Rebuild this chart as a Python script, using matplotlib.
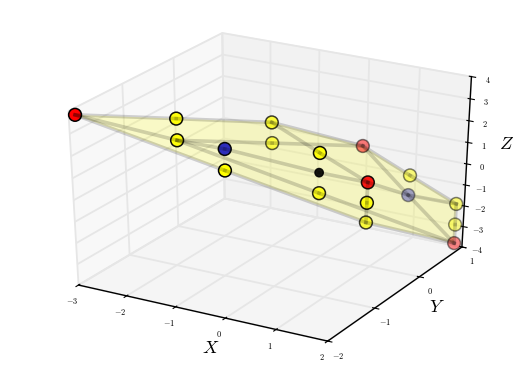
import matplotlib
matplotlib.use("Agg")
import matplotlib.pyplot as plt
from matplotlib.colors import to_rgba
from mpl_toolkits.mplot3d import Axes3D
from mpl_toolkits.mplot3d.art3d import Poly3DCollection

plt.rcParams['mathtext.fontset'] = 'cm'

# points of the polytope
xs = [-2.87,-1.93,-1.4,-0.77,-0.37,-0.72,-0.52,0.42,0.41,0.69,0.36,0.92,1.0,1.08,1.06,1.04,1.84,1.84,1.84]
ys = [-2,-1,-1.5,-1.2,-1.6,-.3,-.5,-.5,-.5,-.8,.5,0,-.1,-.2,.8,.8,1,1,1]
zs = [3.89,2.89,2.78,2.29,2.03,2.37,1.77,1.74,0.84,0.43,0.75,-0.04,-0.82,-1.57,-0.71,-1.66,-1.98,-2.98,-3.89]
colors = ['red','yellow','yellow','#2222bb','yellow','yellow','yellow','yellow','black','yellow',
          'red','red','yellow','yellow','yellow','#2222bb','yellow','yellow','red']
alphas = [1,.95,.95,.95,1,.75,.65,.95,.9,.85,.5,.9,.9,.75,.5,.4,.5,.45,.45]
sizes = [85,85,85,85,85,85,85,85,35,85,85,85,85,85,85,85,85,85,85]

hull = [0,1,5,10,14,16,18,13,4]
edges = [(0,1),(1,5),(5,10),(10,14),(14,16),(16,17),(17,18),(18,13),(13,4),(4,0),
         (0,2),(2,6),(6,10),(2,3),(3,8),(8,11),(11,15),(15,16),(2,9),(9,18),
         (5,7),(7,11),(10,15),(15,18),(11,12),(12,13)]

xtick_vals = [-3,-2,-1,0,1,2]
ytick_vals = [-2,-1,0,1]
ztick_vals = [-4,-3,-2,-1,0,1,2,3,4]

fig = plt.figure(figsize=(5.32,3.75),dpi=100)
ax = fig.add_axes([0,0.012,1,0.98],projection='3d')
ax.apply_aspect = lambda position=None: None
ax.set_box_aspect((1,1,1),zoom=0.909)
ax.computed_zorder = False

poly = Poly3DCollection([[(xs[i],ys[i],zs[i]) for i in hull]],facecolor='yellow',edgecolor='none',alpha=0.2,zorder=0)
ax.add_collection3d(poly)
ax.scatter(xs,ys,zs,c=[to_rgba(c,a) for c,a in zip(colors,alphas)],s=sizes,
           edgecolors=[(0,0,0,a) for a in alphas],linewidths=1.1,depthshade=False,zorder=1)
for a,b in edges:
    ax.plot([xs[a],xs[b]],[ys[a],ys[b]],[zs[a],zs[b]],color='k',alpha=0.17,lw=2.6,zorder=3)

ax.set_xlim(-3,2)
ax.set_ylim(-2,1)
ax.set_zlim(-4,4)
ax.view_init(30,-60)

ax.set_xticks(xtick_vals)
ax.set_xticklabels(['$%d$'%v for v in xtick_vals])
ax.set_yticks(ytick_vals)
ax.set_yticklabels(['$%d$'%v for v in ytick_vals])
ax.set_zticks(ztick_vals)
ax.set_zticklabels(['$%d$'%v for v in ztick_vals])
ax.tick_params(labelsize=6,pad=-1,width=1)

fig.text(211/532,1-348/375,'$X$',fontsize=13,ha='center',va='center')
fig.text(437/532,1-307/375,'$Y$',fontsize=13,ha='center',va='center')
fig.text(507/532,1-144/375,'$Z$',fontsize=13,ha='center',va='center')

for axis in (ax.xaxis,ax.yaxis,ax.zaxis):
    axis._axinfo['grid']['color'] = (0.9,0.9,0.9,1)
    axis._axinfo['grid']['linewidth'] = 1.3
    axis._axinfo['axisline']['color'] = (0,0,0,1)
    axis.line.set_color('k')
    axis.line.set_linewidth(1)
    axis.pane.set_edgecolor((0.9,0.9,0.9,0.6))

fig.savefig('out.png',dpi=100)
